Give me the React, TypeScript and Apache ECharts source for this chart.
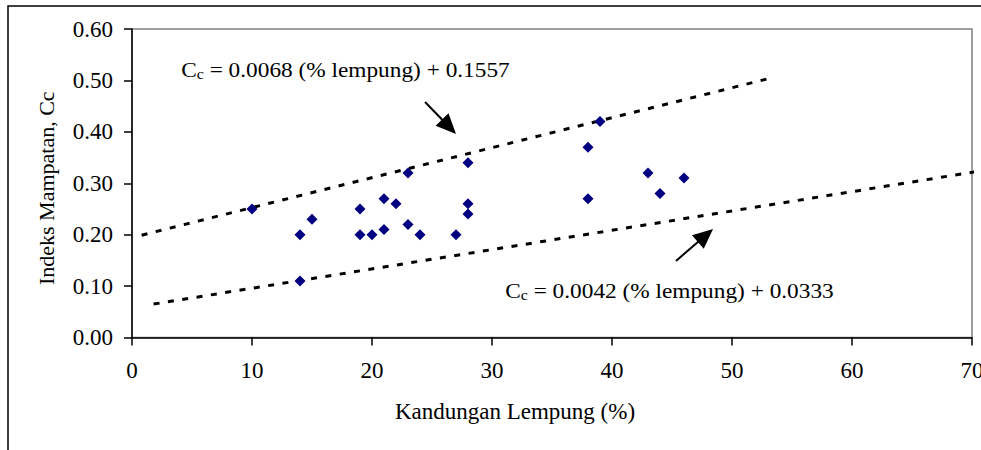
import React, { useEffect, useRef } from "react";
import * as echarts from "echarts";

// Measured points: clay content (%) vs compression index Cc
const clayPct = [10, 14, 14, 15, 19, 19, 20, 21, 21, 22, 23, 23, 24, 27, 28, 28, 28, 38, 38, 39, 43, 44, 46];
const ccValues = [0.25, 0.2, 0.11, 0.23, 0.25, 0.2, 0.2, 0.27, 0.21, 0.26, 0.32, 0.22, 0.2, 0.2, 0.34, 0.26, 0.24, 0.37, 0.27, 0.42, 0.32, 0.28, 0.31];

// Dotted envelope lines (end points, data units)
const upperBoundX = [0.8, 53.3];
const upperBoundY = [0.199, 0.505];
const lowerBoundX = [1.8, 71];
const lowerBoundY = [0.065, 0.325];

// Axis ranges
const xMin = 0, xMax = 70, xStep = 10;
const yMin = 0, yMax = 0.6, yStep = 0.1;

// Annotations (data units)
const upperEquation = " = 0.0068 (% lempung) + 0.1557";
const lowerEquation = " = 0.0042 (% lempung) + 0.0333";
const upperLabelAt = [4.1, 0.52];
const lowerLabelAt = [31.1, 0.0905];
const upperArrow = [[24.42, 0.458], [27.0, 0.396]];
const lowerArrow = [[45.33, 0.149], [48.42, 0.211]];

const FONT = "'Liberation Serif', 'Times New Roman', serif";

export default function App() {
  const ref = useRef<HTMLDivElement>(null);
  useEffect(() => {
    if (!ref.current) return;
    const chart = echarts.init(ref.current, null, { renderer: "svg" });
    const option: any = {
      animation: false,
      backgroundColor: "#fff",
      textStyle: { fontFamily: FONT, color: "#000" },
      grid: {
        left: 132, top: 29, right: 9, bottom: 112.5,
        outerBoundsMode: "none",
        containLabel: false,
        show: true, borderColor: "#808080", borderWidth: 1.5, backgroundColor: "transparent",
      },
      xAxis: {
        type: "value", min: xMin, max: xMax, interval: xStep,
        name: "Kandungan Lempung (%)", nameLocation: "middle", nameGap: 62,
        nameTextStyle: { fontFamily: FONT, fontSize: 23, color: "#000", padding: [0, 74, 0, 0] },
        axisLine: { show: true, onZero: false, lineStyle: { color: "#000", width: 1.5 } },
        axisTick: { show: true, length: 8, lineStyle: { color: "#000", width: 1.5 } },
        axisLabel: { fontFamily: FONT, fontSize: 23, color: "#000", margin: 21, hideOverlap: false },
        splitLine: { show: false },
      },
      yAxis: {
        type: "value", min: yMin, max: yMax, interval: yStep,
        name: "Indeks Mampatan, Cc", nameLocation: "middle", nameGap: 75,
        nameTextStyle: { fontFamily: FONT, fontSize: 22, color: "#000", padding: [0, 10, 0, 0] },
        axisLine: { show: true, onZero: false, lineStyle: { color: "#000", width: 1.5 } },
        axisTick: { show: true, length: 8, lineStyle: { color: "#000", width: 1.5 } },
        axisLabel: {
          fontFamily: FONT, fontSize: 23, color: "#000", margin: 19,
          formatter: (v: number) => v.toFixed(2),
        },
        splitLine: { show: false },
      },
      series: [
        {
          type: "line",
          data: upperBoundX.map((x, i) => [x, upperBoundY[i]]),
          showSymbol: false, symbol: "none", clip: false,
          lineStyle: { color: "#000", width: 3, type: [6, 8.5], cap: "butt" },
          z: 2,
        },
        {
          type: "line",
          data: lowerBoundX.map((x, i) => [x, lowerBoundY[i]]),
          showSymbol: false, symbol: "none", clip: false,
          lineStyle: { color: "#000", width: 3, type: [6, 8.5], cap: "butt" },
          z: 2,
        },
        {
          type: "scatter",
          data: clayPct.map((x, i) => [x, ccValues[i]]),
          symbol: "diamond", symbolSize: 11,
          itemStyle: { color: "#000080", opacity: 1 },
          z: 3,
        },
      ],
    };
    chart.setOption(option);

    const px = (p: number[]) => chart.convertToPixel({ gridIndex: 0 }, p) as number[];
    const arrow = (a: number[][]) => {
      const t = px(a[0]);
      const h = px(a[1]);
      const dx = h[0] - t[0], dy = h[1] - t[1];
      const len = Math.hypot(dx, dy);
      const ux = dx / len, uy = dy / len;
      const headL = 20, headW = 9;
      const bx = h[0] - ux * headL, by = h[1] - uy * headL;
      return [
        { type: "line", shape: { x1: t[0], y1: t[1], x2: bx + ux * 2, y2: by + uy * 2 }, style: { stroke: "#000", lineWidth: 2 } },
        {
          type: "polygon",
          shape: { points: [[h[0], h[1]], [bx - uy * headW, by + ux * headW], [bx + uy * headW, by - ux * headW]] },
          style: { fill: "#000" },
        },
      ];
    };
    const eqText = (at: number[], rest: string) => {
      const p = px(at);
      return {
        type: "text", x: p[0], y: p[1], scaleX: 1.06,
        style: {
          text: "{m|C}{s|c}{m|" + rest + "}",
          verticalAlign: "middle", align: "left",
          rich: {
            m: { fontFamily: FONT, fontSize: 22, lineHeight: 22, fill: "#000", verticalAlign: "bottom" },
            s: { fontFamily: FONT, fontSize: 15, lineHeight: 10, fill: "#000", verticalAlign: "bottom" },
          },
        },
      };
    };
    chart.setOption({
      graphic: [
        { type: "rect", shape: { x: 8, y: 6, width: 1100, height: 600 }, style: { fill: "none", stroke: "#000", lineWidth: 1.5 }, silent: true },
        ...arrow(upperArrow),
        ...arrow(lowerArrow),
        eqText(upperLabelAt, upperEquation),
        eqText(lowerLabelAt, lowerEquation),
      ],
    });
    return () => chart.dispose();
  }, []);
  return <div ref={ref} style={{ width: 981, height: 450, position: "absolute", left: 0, top: 0 }} />;
}
